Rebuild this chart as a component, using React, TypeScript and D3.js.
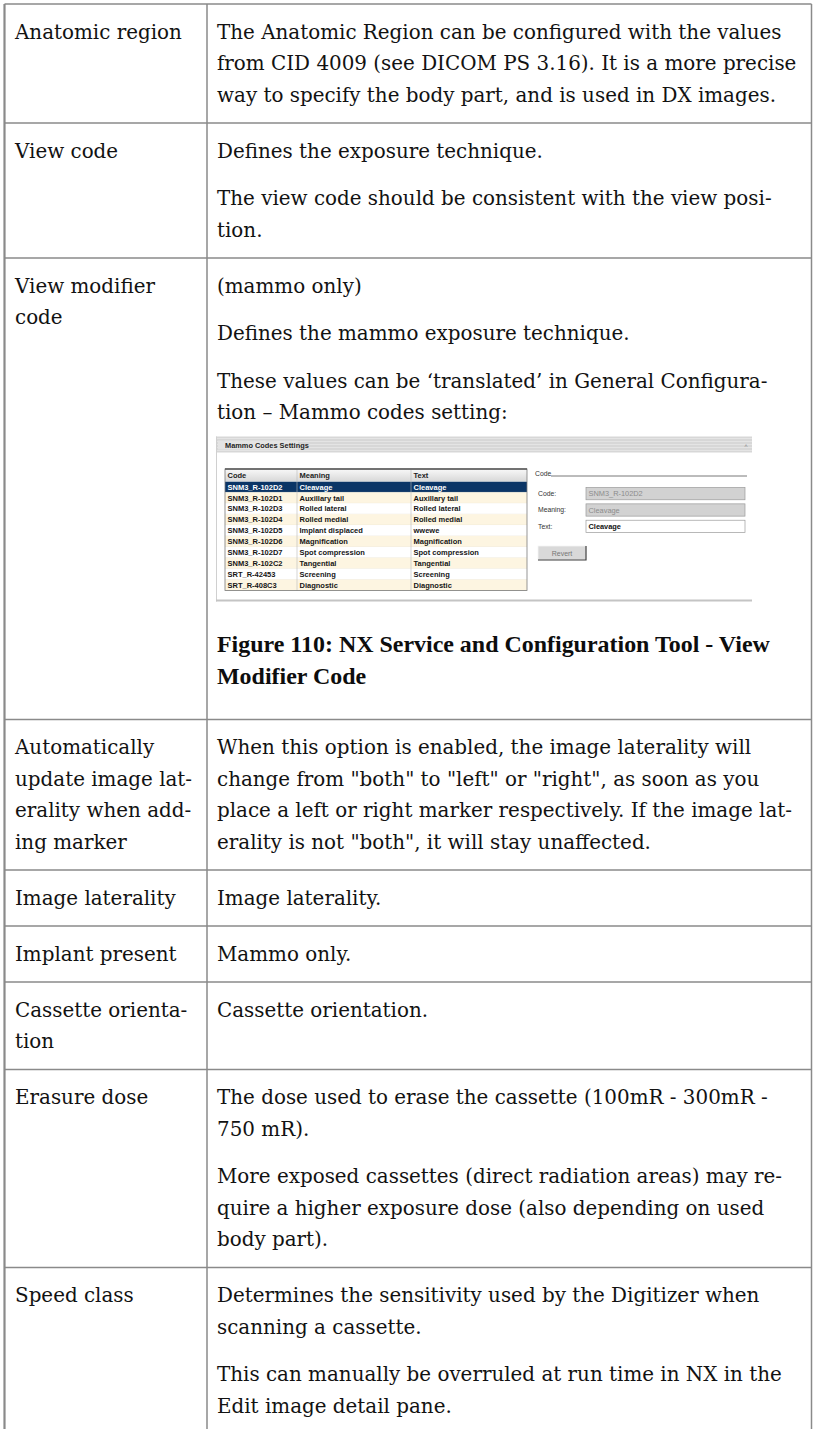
import React, { useEffect, useRef } from "react";
import * as d3 from "d3";

const W = 814;
const H = 1429;

// left column labels (already broken like the reference)
const labels: string[][] = [
  ["Anatomic region"],
  ["View code"],
  ["View modifier", "code"],
  ["Automatically", "update image lat-", "erality when add-", "ing marker"],
  ["Image laterality"],
  ["Implant present"],
  ["Cassette orienta-", "tion"],
  ["Erasure dose"],
  ["Speed class"],
];

type Block = { kind: "p" | "img" | "caption"; lines?: string[] };

const details: Block[][] = [
  [
    {
      kind: "p",
      lines: [
        "The Anatomic Region can be configured with the values",
        "from CID 4009 (see DICOM PS 3.16). It is a more precise",
        "way to specify the body part, and is used in DX images.",
      ],
    },
  ],
  [
    { kind: "p", lines: ["Defines the exposure technique."] },
    { kind: "p", lines: ["The view code should be consistent with the view posi-", "tion."] },
  ],
  [
    { kind: "p", lines: ["(mammo only)"] },
    { kind: "p", lines: ["Defines the mammo exposure technique."] },
    {
      kind: "p",
      lines: ["These values can be \u2018translated\u2019 in General Configura-", "tion \u2013 Mammo codes setting:"],
    },
    { kind: "img" },
    { kind: "caption", lines: ["Figure 110: NX Service and Configuration Tool - View", "Modifier Code"] },
  ],
  [
    {
      kind: "p",
      lines: [
        "When this option is enabled, the image laterality will",
        "change from \"both\" to \"left\" or \"right\", as soon as you",
        "place a left or right marker respectively. If the image lat-",
        "erality is not \"both\", it will stay unaffected.",
      ],
    },
  ],
  [{ kind: "p", lines: ["Image laterality."] }],
  [{ kind: "p", lines: ["Mammo only."] }],
  [{ kind: "p", lines: ["Cassette orientation."] }],
  [
    { kind: "p", lines: ["The dose used to erase the cassette (100mR - 300mR -", "750 mR)."] },
    {
      kind: "p",
      lines: [
        "More exposed cassettes (direct radiation areas) may re-",
        "quire a higher exposure dose (also depending on used",
        "body part).",
      ],
    },
  ],
  [
    { kind: "p", lines: ["Determines the sensitivity used by the Digitizer when", "scanning a cassette."] },
    { kind: "p", lines: ["This can manually be overruled at run time in NX in the", "Edit image detail pane."] },
  ],
];

// embedded "Mammo Codes Settings" screenshot
const miniColumns = ["Code", "Meaning", "Text"];
const codes = [
  "SNM3_R-102D2",
  "SNM3_R-102D1",
  "SNM3_R-102D3",
  "SNM3_R-102D4",
  "SNM3_R-102D5",
  "SNM3_R-102D6",
  "SNM3_R-102D7",
  "SNM3_R-102C2",
  "SRT_R-42453",
  "SRT_R-408C3",
];
const meanings = [
  "Cleavage",
  "Auxillary tail",
  "Rolled lateral",
  "Rolled medial",
  "Implant displaced",
  "Magnification",
  "Spot compression",
  "Tangential",
  "Screening",
  "Diagnostic",
];
const texts = [
  "Cleavage",
  "Auxillary tail",
  "Rolled lateral",
  "Rolled medial",
  "wwewe",
  "Magnification",
  "Spot compression",
  "Tangential",
  "Screening",
  "Diagnostic",
];
const fieldLabels = ["Code:", "Meaning:", "Text:"];
const fieldValues = ["SNM3_R-102D2", "Cleavage", "Cleavage"];

const SERIF = "'DejaVu Serif', serif";
const CAPTION_FONT = "'Liberation Serif', 'Times New Roman', serif";
const UI_FONT = "'Liberation Sans', Arial, sans-serif";

const TOP = 4;
const X_LEFT = 4.5;
const X_DIV = 207;
const X_RIGHT = 811.5;
const PAD = 12.25;
const LINE = 31.5;
const PARA = 16;
const IMG_W = 536;
const IMG_H = 165;
const CAP_LINE = 32;

function drawScreenshot(g: d3.Selection<SVGGElement, unknown, null, undefined>) {
  const defs = g.append("defs");
  const stripes = defs
    .append("pattern")
    .attr("id", "titleStripes")
    .attr("width", 4)
    .attr("height", 3)
    .attr("patternUnits", "userSpaceOnUse");
  stripes.append("rect").attr("width", 4).attr("height", 3).attr("fill", "#e4e4e4");
  stripes.append("rect").attr("width", 4).attr("height", 1).attr("fill", "#c9c9c9");
  const hdr = defs.append("linearGradient").attr("id", "hdrGrad").attr("x1", 0).attr("x2", 0).attr("y1", 0).attr("y2", 1);
  hdr.append("stop").attr("offset", "0%").attr("stop-color", "#f7f7f7");
  hdr.append("stop").attr("offset", "100%").attr("stop-color", "#d8d8d8");

  // panel
  g.append("rect").attr("width", IMG_W).attr("height", IMG_H).attr("fill", "#ffffff");
  g.append("rect").attr("width", IMG_W).attr("height", 16).attr("fill", "url(#titleStripes)");
  g.append("rect").attr("x", 2).attr("y", 4).attr("width", 80).attr("height", 9).attr("fill", "#e4e4e4");
  g.append("text")
    .attr("x", 9)
    .attr("y", 11)
    .attr("font-family", UI_FONT)
    .attr("font-weight", "bold")
    .attr("font-size", 7.4)
    .attr("fill", "#1f1f1f")
    .text("Mammo Codes Settings");
  g.append("text")
    .attr("x", IMG_W - 6)
    .attr("y", 11)
    .attr("text-anchor", "middle")
    .attr("font-family", UI_FONT)
    .attr("font-size", 6)
    .attr("fill", "#888")
    .text("\u02c4");
  g.append("line").attr("x1", 0.5).attr("x2", 0.5).attr("y1", 0).attr("y2", IMG_H).attr("stroke", "#d0d0d0");
  g.append("line").attr("x1", 0).attr("x2", IMG_W).attr("y1", IMG_H - 1).attr("y2", IMG_H - 1).attr("stroke", "#c4c4c4").attr("stroke-width", 2);

  // table
  const colEdges = [9, 81, 195, 311];
  const y = d3.scaleBand<string>().domain(codes).range([45, 154]);
  const rowsG = g.append("g");
  codes.forEach((c, i) => {
    const fill = i === 0 ? "#0b3566" : i % 2 === 1 ? "#fdf5e1" : "#ffffff";
    rowsG
      .append("rect")
      .attr("x", colEdges[0])
      .attr("y", y(c)!)
      .attr("width", colEdges[3] - colEdges[0])
      .attr("height", y.bandwidth())
      .attr("fill", fill);
    [codes[i], meanings[i], texts[i]].forEach((t, k) => {
      rowsG
        .append("text")
        .attr("x", colEdges[k] + 2.5)
        .attr("y", y(c)! + y.bandwidth() / 2 + 2.7)
        .attr("font-family", UI_FONT)
        .attr("font-weight", "bold")
        .attr("font-size", 7.5)
        .attr("fill", i === 0 ? "#ffffff" : "#151515")
        .text(t);
    });
    rowsG
      .append("line")
      .attr("x1", colEdges[0])
      .attr("x2", colEdges[3])
      .attr("y1", y(c)! + y.bandwidth())
      .attr("y2", y(c)! + y.bandwidth())
      .attr("stroke", "#e6dfcf")
      .attr("stroke-width", 0.5);
  });
  g.append("rect").attr("x", colEdges[0]).attr("y", 33).attr("width", colEdges[3] - colEdges[0]).attr("height", 12).attr("fill", "url(#hdrGrad)");
  miniColumns.forEach((h, k) => {
    g.append("text")
      .attr("x", colEdges[k] + 2.5)
      .attr("y", 41.5)
      .attr("font-family", UI_FONT)
      .attr("font-weight", "bold")
      .attr("font-size", 7.5)
      .attr("fill", "#222")
      .text(h);
  });
  colEdges.slice(1, 3).forEach((cx) => {
    g.append("line").attr("x1", cx).attr("x2", cx).attr("y1", 33).attr("y2", 154).attr("stroke", "#b8b8b8").attr("stroke-width", 0.6);
  });
  g.append("rect")
    .attr("x", colEdges[0])
    .attr("y", 32.5)
    .attr("width", colEdges[3] - colEdges[0])
    .attr("height", 154 - 32.5)
    .attr("fill", "none")
    .attr("stroke", "#7a7a7a")
    .attr("stroke-width", 0.8);
  g.append("line").attr("x1", colEdges[0]).attr("x2", colEdges[3]).attr("y1", 32.5).attr("y2", 32.5).attr("stroke", "#555").attr("stroke-width", 1.4);

  // right side form
  g.append("text").attr("x", 319).attr("y", 39).attr("font-family", UI_FONT).attr("font-size", 6.8).attr("fill", "#333").text("Code");
  g.append("line").attr("x1", 335).attr("x2", 531).attr("y1", 39.5).attr("y2", 39.5).attr("stroke", "#555").attr("stroke-width", 0.8);
  const fy = d3.scaleBand<string>().domain(fieldLabels).range([51, 96]).paddingInner(0.25);
  fieldLabels.forEach((lab, i) => {
    const top = fy(lab)!;
    g.append("text").attr("x", 322).attr("y", top + fy.bandwidth() / 2 + 2.3).attr("font-family", UI_FONT).attr("font-size", 6.8).attr("fill", "#333").text(lab);
    const disabled = i < 2;
    g.append("rect")
      .attr("x", 370)
      .attr("y", top)
      .attr("width", 159)
      .attr("height", fy.bandwidth())
      .attr("fill", disabled ? "#d2d2d2" : "#ffffff")
      .attr("stroke", "#9a9a9a")
      .attr("stroke-width", 0.7);
    g.append("text")
      .attr("x", 372.5)
      .attr("y", top + fy.bandwidth() / 2 + 2.6)
      .attr("font-family", UI_FONT)
      .attr("font-weight", disabled ? "normal" : "bold")
      .attr("font-size", 7.4)
      .attr("fill", disabled ? "#8c8c8c" : "#111")
      .text(fieldValues[i]);
  });
  g.append("rect").attr("x", 322).attr("y", 109.5).attr("width", 48).attr("height", 14).attr("fill", "#d9d9d9").attr("stroke", "#f4f4f4").attr("stroke-width", 0.8);
  g.append("polyline")
    .attr("points", "322,123.5 370,123.5 370,109.5")
    .attr("fill", "none")
    .attr("stroke", "#404040")
    .attr("stroke-width", 1.2);
  g.append("text").attr("x", 346).attr("y", 119).attr("text-anchor", "middle").attr("font-family", UI_FONT).attr("font-size", 7).attr("fill", "#777").text("Revert");
}

export default function App() {
  const ref = useRef<SVGSVGElement>(null);

  useEffect(() => {
    const svg = d3.select(ref.current);
    svg.selectAll("*").remove();

    // fit font sizes to the reference line widths
    const probe = svg.append("text").attr("font-family", SERIF).attr("font-size", 20).text(details[0][0].lines![0]);
    const bodyW = (probe.node() as SVGTextElement).getComputedTextLength();
    probe.remove();
    const fs = (20 * 565) / bodyW;
    const capProbe = svg
      .append("text")
      .attr("font-family", CAPTION_FONT)
      .attr("font-weight", "bold")
      .attr("font-size", 20)
      .text(details[2][4].lines![0]);
    const capW = (capProbe.node() as SVGTextElement).getComputedTextLength();
    capProbe.remove();
    const capFs = (20 * 553) / capW;

    const textG = svg.append("g").attr("fill", "#121212");
    const hLines: number[] = [TOP];
    let y = TOP;

    labels.forEach((lab, r) => {
      let cur = y + PAD;
      let prev: string | null = null;
      details[r].forEach((b) => {
        if (b.kind === "p") {
          if (prev === "p") cur += PARA;
          b.lines!.forEach((t) => {
            textG
              .append("text")
              .attr("x", 217)
              .attr("y", cur + LINE / 2)
              .attr("dy", "0.35em")
              .attr("font-family", SERIF)
              .attr("font-size", fs)
              .text(t);
            cur += LINE;
          });
        } else if (b.kind === "img") {
          cur += 8.25;
          drawScreenshot(svg.append("g").attr("transform", `translate(216,${cur})`));
          cur += IMG_H;
        } else {
          cur += 26;
          b.lines!.forEach((t) => {
            textG
              .append("text")
              .attr("x", 217)
              .attr("y", cur + CAP_LINE / 2)
              .attr("dy", "0.35em")
              .attr("font-family", CAPTION_FONT)
              .attr("font-weight", "bold")
              .attr("font-size", capFs)
              .attr("fill", "#0d0d0d")
              .text(t);
            cur += CAP_LINE;
          });
          cur += 15.75;
        }
        prev = b.kind;
      });
      lab.forEach((t, i) => {
        textG
          .append("text")
          .attr("x", 15)
          .attr("y", y + PAD + LINE * i + LINE / 2)
          .attr("dy", "0.35em")
          .attr("font-family", SERIF)
          .attr("font-size", fs)
          .text(t);
      });
      const bottom = Math.max(cur + PAD, y + PAD * 2 + lab.length * LINE);
      y = bottom;
      hLines.push(y);
    });

    const grid = svg.append("g").attr("stroke", "#8a8a8a");
    grid
      .selectAll("line.h")
      .data(hLines)
      .join("line")
      .attr("class", "h")
      .attr("x1", X_LEFT)
      .attr("x2", X_RIGHT)
      .attr("y1", (d) => d)
      .attr("y2", (d) => d)
      .attr("stroke-width", 1.5);
    grid
      .selectAll("line.v")
      .data([X_LEFT, X_DIV, X_RIGHT])
      .join("line")
      .attr("class", "v")
      .attr("x1", (d) => d)
      .attr("x2", (d) => d)
      .attr("y1", TOP)
      .attr("y2", H)
      .attr("stroke-width", (d, i) => (i === 0 ? 2.2 : 1.5));
  }, []);

  return (
    <svg
      ref={ref}
      width={W}
      height={H}
      viewBox={`0 0 ${W} ${H}`}
      style={{ position: "absolute", left: 0, top: 0, background: "#ffffff" }}
    />
  );
}
